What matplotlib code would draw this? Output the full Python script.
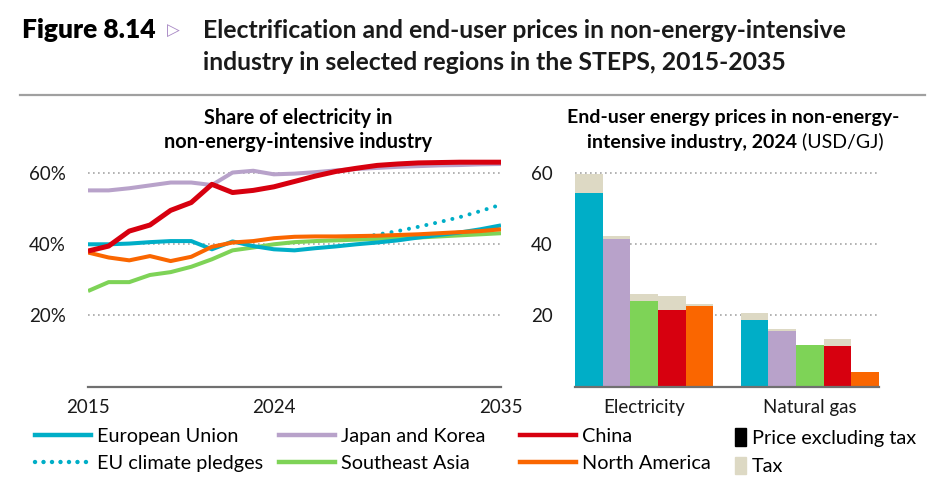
# Electrification and end-user prices in non-energy-intensive industry
import matplotlib.pyplot as plt
from matplotlib.lines import Line2D
from matplotlib.patches import Patch

plt.rcParams['font.family'] = ['Lato', 'DejaVu Sans']

# --- left panel: share of electricity (%) ---
years = list(range(2015, 2036))
eu = [39.9, 39.9, 40.1, 40.5, 40.8, 40.8, 38.5, 40.7, 39.4, 38.5, 38.2,
      38.8, 39.3, 39.9, 40.4, 41.0, 41.8, 42.5, 43.2, 44.1, 45.2]
japan_korea = [55.0, 55.0, 55.6, 56.4, 57.2, 57.2, 56.5, 60.0, 60.5, 59.5, 59.7,
               60.1, 60.6, 61.0, 61.3, 61.6, 61.8, 62.0, 62.1, 62.3, 62.4]
china = [38.0, 39.4, 43.6, 45.3, 49.4, 51.6, 56.7, 54.4, 55.0, 56.0, 57.5,
         59.0, 60.3, 61.2, 62.0, 62.4, 62.7, 62.8, 62.9, 62.9, 62.9]
southeast_asia = [26.8, 29.3, 29.3, 31.3, 32.1, 33.6, 35.7, 38.2, 39.0, 39.9, 40.5,
                  40.8, 41.0, 41.2, 41.4, 41.6, 41.8, 42.1, 42.4, 42.7, 43.0]
north_america = [37.6, 36.2, 35.4, 36.6, 35.2, 36.4, 39.2, 40.4, 40.8, 41.6, 42.0,
                 42.1, 42.1, 42.2, 42.3, 42.5, 42.7, 43.0, 43.3, 43.6, 44.1]
pledge_years = list(range(2028, 2036))
eu_pledges = [41.5, 42.6, 43.6, 44.8, 46.1, 47.5, 49.2, 51.0]

# --- right panel: end-user prices 2024 (USD/GJ) ---
regions = ['European Union', 'Japan and Korea', 'Southeast Asia', 'China', 'North America']
elec_excl_tax = [54.2, 41.4, 24.0, 21.4, 22.7]
elec_tax = [5.3, 0.8, 2.1, 3.9, 0.4]
gas_excl_tax = [18.7, 15.5, 11.6, 11.4, 4.0]
gas_tax = [1.9, 0.8, 0.0, 2.1, 0.0]
fuels = ['Electricity', 'Natural gas']

c_eu = '#00AEC7'
c_jk = '#B8A2CA'
c_cn = '#D7000F'
c_sea = '#7ED357'
c_na = '#FA6600'
c_tax = '#DDD9C4'
bar_colors = [c_eu, c_jk, c_sea, c_cn, c_na]
grid_kw = dict(color='#A6A6A6', linestyle=(0, (1, 2)), linewidth=1.2)

fig = plt.figure(figsize=(9.4, 4.96), dpi=100)

# titles
fig.text(22 / 940, 1 - 30 / 496, 'Figure 8.14', fontsize=19, fontweight='heavy',
         va='center', ha='left', color='black')
fig.text(167 / 940, 1 - 31 / 496, '▷', fontsize=12, color='#A989C5',
         family='DejaVu Sans', va='center', ha='left')
fig.text(203 / 940, 1 - 30 / 496, 'Electrification and end-user prices in non-energy-intensive',
         fontsize=17.8, fontweight='bold', va='center', ha='left', color='#1a1a1a')
fig.text(203 / 940, 1 - 63 / 496, 'industry in selected regions in the STEPS, 2015-2035',
         fontsize=17.8, fontweight='bold', va='center', ha='left', color='#1a1a1a')
fig.add_artist(Line2D([20 / 940, 925 / 940], [1 - 95 / 496, 1 - 95 / 496],
                      color='#A0A0A0', linewidth=1.6))

# panel subtitles
fig.text(298 / 940, 1 - 118 / 496, 'Share of electricity in', fontsize=14.3,
         fontweight='bold', ha='center', va='center')
fig.text(298 / 940, 1 - 142 / 496, 'non-energy-intensive industry', fontsize=14.3,
         fontweight='bold', ha='center', va='center')
fig.text(733 / 940, 1 - 118 / 496, 'End-user energy prices in non-energy-', fontsize=14,
         fontweight='bold', ha='center', va='center')
sub2 = fig.text(587 / 940, 1 - 142 / 496, 'intensive industry, 2024', fontsize=14,
                fontweight='bold', ha='left', va='center')
fig.add_artist(plt.Annotation(' (USD/GJ)', xy=(1, 0), xycoords=sub2, fontsize=14,
                              ha='left', va='bottom'))

# left panel
ax1 = fig.add_axes([88 / 940, (496 - 386.7) / 496, 413 / 940, 232 / 496])
ax1.plot(years, southeast_asia, color=c_sea, linewidth=2.9, solid_capstyle='butt', zorder=3)
ax1.plot(pledge_years, eu_pledges, color=c_eu, linewidth=2.9, linestyle=(0, (0.01, 2.2)),
         dash_capstyle='round', zorder=2)
ax1.plot(years, eu, color=c_eu, linewidth=2.9, solid_capstyle='butt', zorder=4)
ax1.plot(years, north_america, color=c_na, linewidth=2.9, solid_capstyle='butt', zorder=5)
ax1.plot(years, japan_korea, color=c_jk, linewidth=2.9, solid_capstyle='butt', zorder=6)
ax1.plot(years, china, color=c_cn, linewidth=3.6, solid_capstyle='butt', zorder=7)
ax1.set_xlim(2015, 2035)
ax1.set_ylim(0, 65)
ax1.set_xticks([2015, 2024, 2035])
ax1.set_yticks([20, 40, 60])
ax1.set_yticklabels(['20%', '40%', '60%'])

# right panel
ax2 = fig.add_axes([575 / 940, (496 - 386.7) / 496, 304 / 940, 232 / 496])
pos_elec = list(range(5))
pos_gas = [p + 6 for p in range(5)]
ax2.bar(pos_elec, elec_excl_tax, width=1.0, color=bar_colors, zorder=3)
ax2.bar(pos_elec, elec_tax, width=1.0, bottom=elec_excl_tax, color=c_tax, zorder=3)
ax2.bar(pos_gas, gas_excl_tax, width=1.0, color=bar_colors, zorder=3)
ax2.bar(pos_gas, gas_tax, width=1.0, bottom=gas_excl_tax, color=c_tax, zorder=3)
ax2.set_xlim(-0.5, 10.5)
ax2.set_ylim(0, 65)
ax2.set_xticks([2, 8])
ax2.set_xticklabels(fuels)
ax2.set_yticks([20, 40, 60])
ax2.set_yticklabels(['20', '40', '60'])

for ax in (ax1, ax2):
    for s in ('left', 'right', 'top'):
        ax.spines[s].set_visible(False)
    ax.spines['bottom'].set_color('#707070')
    ax.spines['bottom'].set_linewidth(1.6)
    ax.spines['bottom'].set_zorder(8)
    ax.yaxis.grid(True, **grid_kw)
    ax.set_axisbelow(True)
    ax.tick_params(axis='both', length=0, labelsize=13.5, colors='#1a1a1a')
    ax.tick_params(axis='y', pad=16)
    ax.tick_params(axis='x', pad=9)

# legends
leg_kw = dict(frameon=False, fontsize=14.3, handletextpad=0.3,
              labelspacing=0.5, loc='upper left', borderaxespad=0, borderpad=0)
cols = [
    (35, [Line2D([], [], color=c_eu, lw=3.2),
          Line2D([], [], color=c_eu, lw=3.2, linestyle=(0, (0.01, 1.9)), dash_capstyle='round')],
     ['European Union', 'EU climate pledges']),
    (279, [Line2D([], [], color=c_jk, lw=3.2), Line2D([], [], color=c_sea, lw=3.2)],
     ['Japan and Korea', 'Southeast Asia']),
    (520, [Line2D([], [], color=c_cn, lw=3.2), Line2D([], [], color=c_na, lw=3.2)],
     ['China', 'North America']),
]
for x0, handles, labels in cols:
    fig.legend(handles, labels, bbox_to_anchor=(x0 / 940, 1 - 428 / 496),
               handlelength=2.8, **leg_kw)
fig.legend([Patch(color='black'), Patch(color=c_tax)], ['Price excluding tax', 'Tax'],
           bbox_to_anchor=(735 / 940, 1 - 428 / 496), handlelength=0.55, handleheight=1.0,
           **leg_kw)

fig.savefig('out.png', dpi=100)
